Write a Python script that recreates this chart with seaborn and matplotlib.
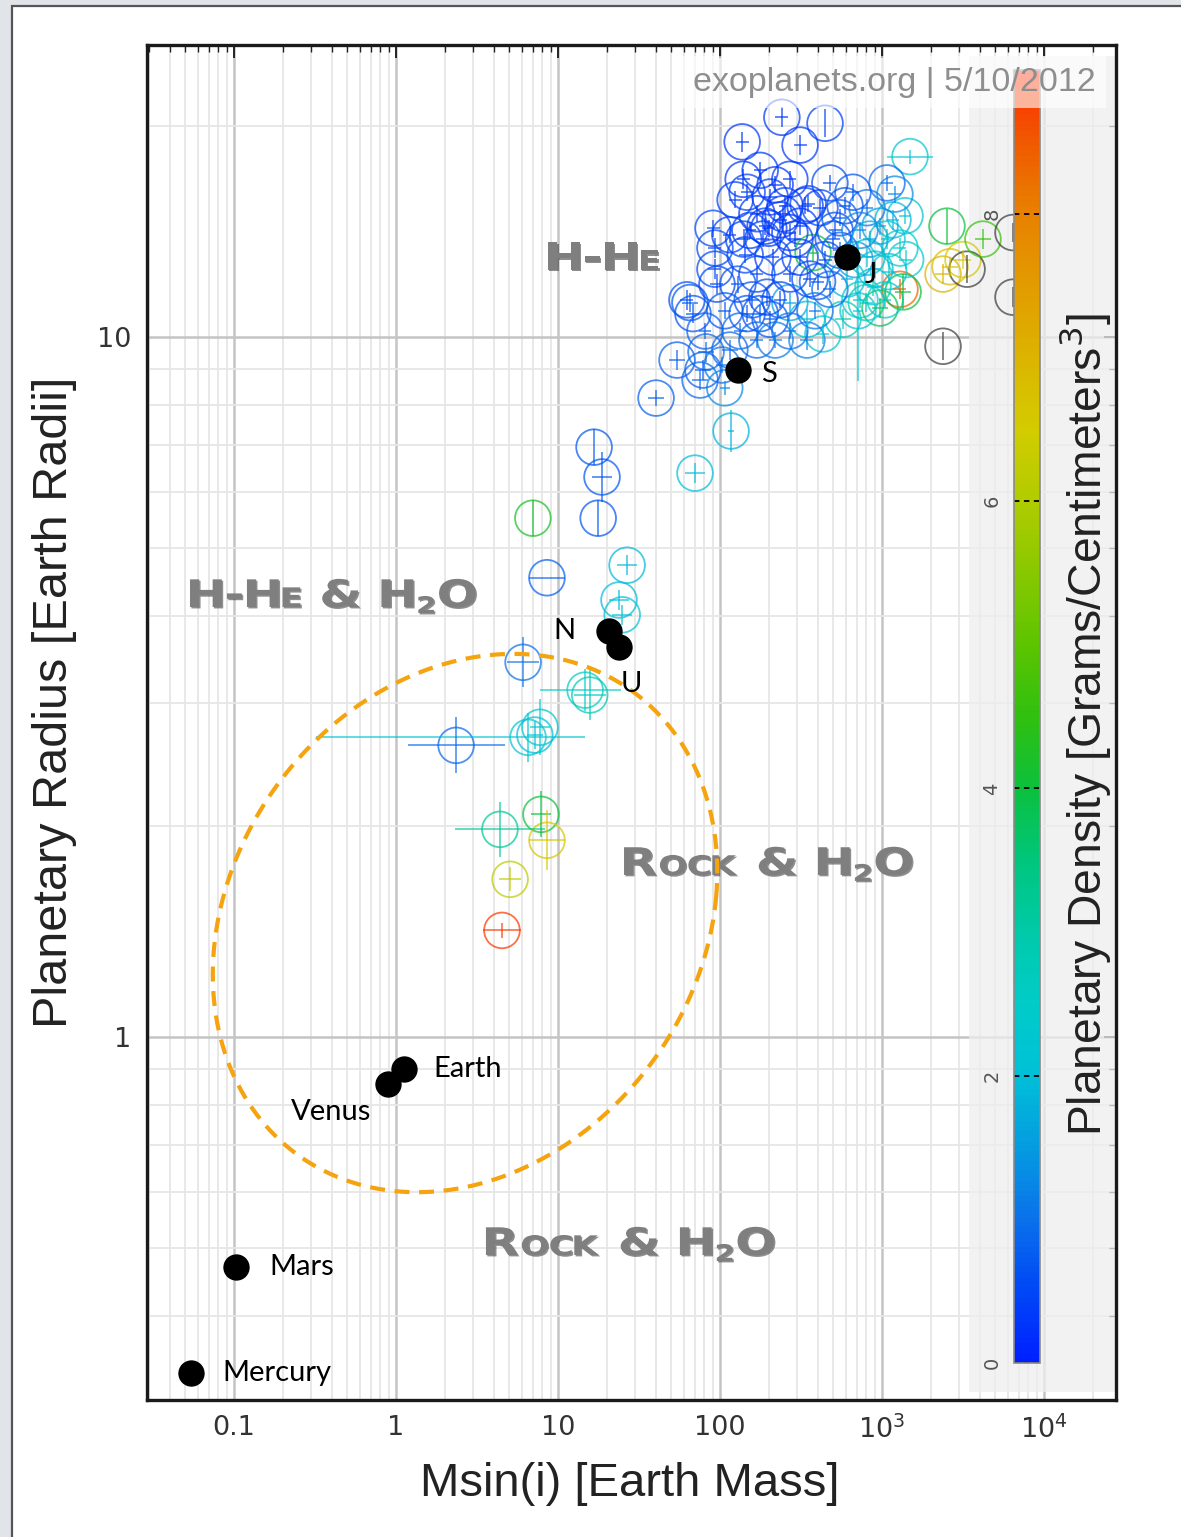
import numpy as np
import pandas as pd
import matplotlib
matplotlib.use("Agg")
import matplotlib.pyplot as plt
import matplotlib.colors as mcolors
import matplotlib.patheffects as pe
import matplotlib.transforms as mtransforms
from matplotlib.patches import Rectangle, PathPatch
from matplotlib.path import Path
from matplotlib.textpath import TextPath
from matplotlib.font_manager import FontProperties
from matplotlib.ticker import FixedLocator, FixedFormatter, LogLocator, NullFormatter
import seaborn as sns

sns.set_theme(style="white")
plt.rcParams["font.family"] = ["DejaVu Sans"]

# ---------------- data ----------------
# Exoplanets: Msin(i) [Earth masses], radius [Earth radii], density [g/cm^3]
# mass errors (lower/upper) and radius errors are in dex
planet_mass = [4.51, 5.06, 4.38, 7.85, 8.55, 2.35, 6.53, 7.74, 7.2, 14.7,
               15.7, 6.09, 8.55, 7.0, 17.7, 18.7, 16.7, 26.7, 23.8, 24.9,
               40.3, 54.3, 75.3, 82.0, 107, 117, 70.1, 62.5, 68.1, 93.1,
               93.1, 95.8, 137, 139, 241, 312, 445, 1489, 2518, 2381,
               2630, 3163, 3350, 2381, 4200, 6440, 6440, 1291, 1349, 972,
               574, 432, 344, 270, 711, 147, 169, 204, 235, 270,
               312, 184, 212, 169, 195, 235, 177, 270, 312, 375,
               414, 477, 662, 808, 1074, 1169, 1074, 1291, 808, 608,
               880, 78.5, 115, 169, 204, 147, 344, 65.3, 90.6, 245,
               200, 270, 350, 500, 550, 400, 140, 1400, 1100, 800,
               124, 153, 143, 129, 158, 219, 252, 290, 335, 359,
               445, 513, 591, 550, 731, 681, 843, 905, 972, 1387,
               731, 477, 386, 270, 219, 190, 177, 115, 107, 80.8,
               133, 103, 1202, 1044]
planet_radius = [1.42, 1.68, 1.98, 2.08, 1.91, 2.61, 2.68, 2.77, 2.70, 3.13,
                 3.08, 3.43, 4.53, 5.51, 5.51, 6.31, 6.96, 4.72, 4.21, 4.01,
                 8.18, 9.27, 8.68, 9.52, 8.46, 7.34, 6.39, 11.3, 10.8, 13.4,
                 12.5, 11.9, 19.0, 16.8, 20.6, 18.8, 20.2, 18.1, 14.4, 12.3,
                 12.6, 12.9, 12.5, 9.7, 13.8, 14.1, 11.4, 11.7, 11.6, 11.0,
                 10.6, 10.1, 10.6, 11.2, 10.9, 16.1, 15.0, 15.85, 14.7, 16.8,
                 14.4, 13.8, 13.0, 12.3, 11.4, 11.3, 10.8, 12.3, 13.0, 13.2,
                 15.3, 16.6, 16.1, 15.3, 16.6, 14.7, 13.8, 13.4, 13.0, 12.1,
                 11.8, 8.97, 9.58, 9.9, 10.6, 10.8, 9.9, 11.2, 14.3, 15.0,
                 14.3, 14.1, 15.5, 13.8, 14.8, 12.0, 13.8, 12.9, 12.4, 11.2,
                 15.7, 14.2, 13.1, 11.9, 11.3, 16.5, 15.4, 13.8, 15.4, 12.1,
                 12.9, 14.2, 15.4, 13.3, 14.2, 12.9, 13.8, 12.5, 14.4, 14.9,
                 11.3, 11.7, 10.9, 10.2, 9.9, 14.4, 17.3, 14.0, 10.9, 10.2,
                 10.2, 9.12, 16.0, 11.3]
planet_density = [8.8, 6.2, 3.2, 4.0, 6.6, 0.9, 2.2, 2.3, 2.0, 2.6,
                  2.8, 1.0, 0.8, 4.2, 0.7, 0.7, 0.7, 1.9, 2.0, 2.1,
                  0.8, 0.8, 0.9, 0.9, 1.3, 1.8, 2.0, 0.6, 0.6, 0.5,
                  0.5, 0.5, 0.3, 0.3, 0.3, 0.3, 0.4, 2.3, 4.0, 7.0,
                  6.8, 6.6, 12.0, 12.0, 4.6, 12.0, 12.0, 8.4, 4.0, 3.8,
                  2.8, 2.3, 2.0, 1.6, 2.2, 0.4, 0.35, 0.3, 0.3, 0.3,
                  0.35, 0.4, 0.4, 0.5, 0.55, 0.55, 0.6, 0.45, 0.4, 4.0,
                  0.4, 0.5, 0.7, 1.0, 0.9, 1.9, 2.3, 2.5, 2.0, 1.9,
                  2.5, 0.8, 0.9, 0.9, 0.7, 0.6, 1.2, 0.7, 0.5, 0.35,
                  0.3, 0.3, 0.4, 0.6, 0.7, 0.6, 0.45, 2.4, 2.2, 2.6,
                  0.4, 0.35, 0.45, 0.6, 0.6, 0.3, 0.3, 0.35, 0.35, 0.5,
                  0.5, 0.55, 0.6, 0.8, 1.2, 1.5, 1.7, 2.0, 1.6, 2.1,
                  2.3, 0.9, 1.0, 1.0, 1.1, 0.3, 0.3, 0.45, 0.7, 0.8,
                  0.9, 1.0, 1.3, 2.6]
mass_err_lo = [0.12, 0.07, 0.28, 0.06, 0.11, 0.30, 1.31, 0.06, 0.05, 0.28,
               0.10, 0.10, 0.11, 0.0, 0.0, 0.06, 0.0, 0.06, 0.06, 0.06,
               0.05, 0.05, 0.05, 0.05, 0.03, 0.02, 0.06, 0.04, 0.04, 0.04,
               0.04, 0.04, 0.04, 0.04, 0.04, 0.04, 0.0, 0.14, 0.0, 0.05,
               0.05, 0.05, 0.0, 0.0, 0.05, 0.0, 0.0, 0.04, 0.05, 0.05,
               0.05, 0.04, 0.04, 0.04, 0.03, 0.04, 0.04, 0.04, 0.04, 0.04,
               0.04, 0.04, 0.04, 0.04, 0.04, 0.04, 0.04, 0.04, 0.04, 0.04,
               0.04, 0.04, 0.04, 0.04, 0.04, 0.04, 0.04, 0.04, 0.04, 0.04,
               0.04, 0.05, 0.05, 0.04, 0.04, 0.04, 0.04, 0.05, 0.04, 0.04,
               0.04, 0.04, 0.04, 0.04, 0.04, 0.04, 0.04, 0.04, 0.04, 0.04,
               0.04, 0.04, 0.04, 0.04, 0.04, 0.04, 0.04, 0.04, 0.04, 0.04,
               0.04, 0.04, 0.04, 0.04, 0.04, 0.04, 0.04, 0.04, 0.04, 0.04,
               0.04, 0.04, 0.04, 0.04, 0.04, 0.04, 0.04, 0.04, 0.04, 0.04,
               0.04, 0.04, 0.04, 0.04]
mass_err_hi = [0.12, 0.07, 0.28, 0.06, 0.11, 0.30, 0.35, 0.06, 0.05, 0.22,
               0.10, 0.10, 0.11, 0.0, 0.0, 0.06, 0.0, 0.06, 0.06, 0.06,
               0.05, 0.05, 0.05, 0.05, 0.03, 0.02, 0.06, 0.04, 0.04, 0.04,
               0.04, 0.04, 0.04, 0.04, 0.04, 0.04, 0.0, 0.14, 0.0, 0.05,
               0.05, 0.05, 0.0, 0.0, 0.05, 0.0, 0.0, 0.04, 0.05, 0.05,
               0.05, 0.04, 0.04, 0.04, 0.03, 0.04, 0.04, 0.04, 0.04, 0.04,
               0.04, 0.04, 0.04, 0.04, 0.04, 0.04, 0.04, 0.04, 0.04, 0.04,
               0.04, 0.04, 0.04, 0.04, 0.04, 0.04, 0.04, 0.04, 0.04, 0.04,
               0.04, 0.05, 0.05, 0.04, 0.04, 0.04, 0.04, 0.05, 0.04, 0.04,
               0.04, 0.04, 0.04, 0.04, 0.04, 0.04, 0.04, 0.04, 0.04, 0.04,
               0.04, 0.04, 0.04, 0.04, 0.04, 0.04, 0.04, 0.04, 0.04, 0.04,
               0.04, 0.04, 0.04, 0.04, 0.04, 0.04, 0.04, 0.04, 0.04, 0.04,
               0.04, 0.04, 0.04, 0.04, 0.04, 0.04, 0.04, 0.04, 0.04, 0.04,
               0.04, 0.04, 0.04, 0.04]
radius_err = [0.011, 0.017, 0.039, 0.033, 0.043, 0.040, 0.035, 0.040, 0.02, 0.030,
              0.036, 0.036, 0.0, 0.026, 0.026, 0.036, 0.026, 0.014, 0.014, 0.014,
              0.011, 0.014, 0.014, 0.014, 0.010, 0.030, 0.014, 0.014, 0.014, 0.014,
              0.014, 0.014, 0.014, 0.014, 0.014, 0.014, 0.020, 0.010, 0.025, 0.014,
              0.014, 0.014, 0.020, 0.020, 0.014, 0.014, 0.014, 0.014, 0.025, 0.014,
              0.014, 0.014, 0.014, 0.014, 0.100, 0.012, 0.012, 0.012, 0.012, 0.012,
              0.012, 0.012, 0.012, 0.012, 0.012, 0.012, 0.012, 0.012, 0.012, 0.014,
              0.012, 0.012, 0.012, 0.012, 0.012, 0.014, 0.014, 0.014, 0.014, 0.014,
              0.014, 0.014, 0.014, 0.012, 0.012, 0.012, 0.014, 0.014, 0.012, 0.012,
              0.012, 0.012, 0.012, 0.012, 0.012, 0.012, 0.012, 0.014, 0.014, 0.014,
              0.012, 0.012, 0.012, 0.012, 0.012, 0.012, 0.012, 0.012, 0.012, 0.012,
              0.012, 0.012, 0.012, 0.012, 0.012, 0.012, 0.012, 0.012, 0.012, 0.012,
              0.012, 0.012, 0.012, 0.012, 0.012, 0.012, 0.012, 0.012, 0.012, 0.012,
              0.012, 0.012, 0.012, 0.012]

# Solar System planets
solar_names = ["Mercury", "Venus", "Earth", "Mars", "N", "U", "S", "J"]
solar_mass = [0.054, 0.89, 1.12, 0.103, 20.6, 23.7, 129, 608]
solar_radius = [0.331, 0.857, 0.90, 0.47, 3.80, 3.61, 8.97, 13.0]

x_tick_values = [0.1, 1, 10, 100, 1000, 10000]
x_tick_labels = ["0.1", "1", "10", "100", "$10^3$", "$10^4$"]
y_tick_values = [1, 10]
y_tick_labels = ["1", "10"]
density_ticks = [0, 2, 4, 6, 8]

# ---------------- figure ----------------
W, H = 1181, 1537
fig = plt.figure(figsize=(W / 100, H / 100), dpi=100)
fig.patch.set_facecolor("#e1e4e9")
card = Rectangle((12 / W, -0.02), 1.1, (H - 6) / H + 0.02, transform=fig.transFigure,
                 facecolor="white", edgecolor="#555555", lw=1.6, zorder=-5)
fig.add_artist(card)

ax = fig.add_axes([147 / W, 137 / H, 969 / W, 1355 / H])
ax.set_facecolor("none")

dens_anchor_colors = ["#0020ff", "#0048f6", "#0a72ea", "#049ce0", "#00c0d8", "#00ccc8",
                      "#00caa8", "#00c67c", "#0cc03c", "#30c010", "#5cc400", "#88c800",
                      "#b0cc00", "#d2cc00", "#dcb400", "#e29c00", "#e88200", "#f05a00",
                      "#ff2a00"]
cmap = mcolors.LinearSegmentedColormap.from_list("density", dens_anchor_colors)
cmap.set_over("#3c3c3c")
norm = mcolors.Normalize(vmin=0, vmax=9)

df = pd.DataFrame({"mass": planet_mass, "radius": planet_radius,
                   "density": planet_density})

ax.set_xscale("log")
ax.set_yscale("log")

sns.scatterplot(data=df, x="mass", y="radius", hue="density", palette=cmap,
                hue_norm=norm, s=660, marker="o", linewidth=1.3, legend=False,
                ax=ax, zorder=3)
pts = ax.collections[-1]
edge = cmap(norm(np.asarray(planet_density)))
edge[:, 3] = 0.72
pts.set_edgecolors(edge)
pts.set_facecolors("none")

m = np.asarray(planet_mass)
r = np.asarray(planet_radius)
ax.hlines(r, m / 10 ** np.asarray(mass_err_lo), m * 10 ** np.asarray(mass_err_hi),
          colors=edge, lw=1.2, zorder=3)
ax.vlines(m, r / 10 ** np.asarray(radius_err), r * 10 ** np.asarray(radius_err),
          colors=edge, lw=1.2, zorder=3)

# Solar System reference points
ax.scatter(solar_mass, solar_radius, s=360, color="black", zorder=6, lw=0)
label_offsets = {"Mercury": (23, 0, "left"), "Venus": (-12, -20, "right"),
                 "Earth": (21, 0, "left"), "Mars": (24, 0, "left"),
                 "N": (-32, 0, "center"), "U": (9, -27, "center"),
                 "S": (22, -3, "center"), "J": (17, -13, "center")}
for name, mx, ry in zip(solar_names, solar_mass, solar_radius):
    dx, dy, ha = label_offsets[name]
    ax.annotate(name, (mx, ry), xytext=(dx, dy), textcoords="offset points",
                ha=ha, va="center", fontsize=21, family="Lato", color="black",
                zorder=7)

ax.set_xlim(0.02904, 27830)
ax.set_ylim(0.3030, 26.13)

ax.xaxis.set_major_locator(FixedLocator(x_tick_values))
ax.xaxis.set_major_formatter(FixedFormatter(x_tick_labels))
ax.yaxis.set_major_locator(FixedLocator(y_tick_values))
ax.yaxis.set_major_formatter(FixedFormatter(y_tick_labels))
for axis in (ax.xaxis, ax.yaxis):
    axis.set_minor_locator(LogLocator(base=10, subs=np.arange(2, 10), numticks=20))
    axis.set_minor_formatter(NullFormatter())

ax.set_axisbelow(True)
ax.grid(which="major", color="#c4c4c4", lw=1.8)
ax.grid(which="minor", color="#e6e6e6", lw=1.3)
ax.tick_params(which="both", direction="in", top=True, right=True, colors="#222222",
               labelcolor="#333333", labelsize=19.5)
ax.tick_params(which="major", length=9, width=1.4, pad=11)
ax.tick_params(which="minor", length=5, width=1.0)
for sp in ax.spines.values():
    sp.set_color("#1a1a1a")
    sp.set_linewidth(2.4)

ax.set_xlabel("Msin(i) [Earth Mass]", fontsize=34, family="Liberation Sans",
              color="#222222")
ax.xaxis.set_label_coords(0.4985, -0.046)
ax.xaxis.label.set_va("top")
ax.set_ylabel("Planetary Radius [Earth Radii]", fontsize=35, family="Liberation Sans",
              color="#222222")
ax.yaxis.set_label_coords(-0.072, 0.515)

# light panel behind the colour scale
ax.add_patch(Rectangle((0.848, 0.006), 0.152, 0.986, transform=ax.transAxes,
                       facecolor="#eeeeee", edgecolor="none", alpha=0.75, zorder=0.8))

# dashed highlight ring
t = np.linspace(0, 2 * np.pi, 600)
ring_x = 0.3282 + (251 * np.cos(t) + 25 * np.sin(t)) / 969
ring_y = 0.3520 + (268 * np.sin(t) + 25 * np.cos(t)) / 1355
ax.plot(ring_x, ring_y, transform=ax.transAxes, color="#f5a30f", lw=3.0,
        dashes=(3.6, 2.3), zorder=5, clip_on=False)

# composition region labels in small caps
LABEL_FONT = FontProperties(family="DejaVu Sans", weight="bold")


def region_label(xa, ya, pieces, stretch=1.28, color="#7f7f7f"):
    paths = []
    cursor = 0.0
    for text, size, shift, gap in pieces:
        tp = TextPath((0, 0), text, size=size, prop=LABEL_FONT)
        ext = tp.get_extents()
        verts = tp.vertices.copy()
        verts[:, 0] += cursor - ext.x0
        verts[:, 1] += shift
        paths.append(Path(verts, tp.codes))
        cursor += ext.width + gap
    compound = Path.make_compound_path(*paths)
    tr = (mtransforms.Affine2D().scale(stretch, 1.0)
          + mtransforms.ScaledTranslation(xa, ya, ax.transAxes))
    patch = PathPatch(compound, transform=tr, facecolor=color, edgecolor="none",
                      zorder=2.5,
                      path_effects=[pe.SimplePatchShadow(offset=(1.0, -1.0),
                                                         shadow_rgbFace="#333333",
                                                         alpha=0.55),
                                    pe.Normal()])
    ax.add_artist(patch)


HHE = [("H", 38, 0, 4), ("-", 38, 0, 4), ("H", 38, 0, 3), ("E", 27, 0, 0)]
HHE_H2O = [("H", 38, 0, 4), ("-", 38, 0, 4), ("H", 38, 0, 3), ("E", 27, 0, 17),
           ("&", 38, 0, 17), ("H", 38, 0, 4), ("2", 23, -6, 4), ("O", 38, 0, 0)]
ROCK_H2O = [("R", 38, 0, 3), ("O", 27, 0, 2), ("C", 27, 0, 2), ("K", 27, 0, 17),
            ("&", 38, 0, 17), ("H", 38, 0, 4), ("2", 23, -6, 4), ("O", 38, 0, 0)]
region_label(0.4138, 0.8339, HHE)
region_label(0.0444, 0.5852, HHE_H2O)
region_label(0.4923, 0.3875, ROCK_H2O)
region_label(0.3498, 0.1070, ROCK_H2O)

# colour scale
cax = fig.add_axes([1014 / W, (H - 1363) / H, 26 / W, (1363 - 70) / H])
sm = plt.cm.ScalarMappable(norm=norm, cmap=cmap)
cbar = fig.colorbar(sm, cax=cax)
cbar.outline.set_edgecolor("#8a8a8a")
cbar.outline.set_linewidth(1.2)
cbar.set_ticks(density_ticks)
cax.yaxis.set_ticks_position("left")
cax.tick_params(length=0, pad=9, labelsize=14, labelcolor="#555555", labelrotation=90)
for lab in cax.get_yticklabels():
    lab.set_va("center")
for v in density_ticks:
    cax.axhline(v, color="black", lw=1.3, ls=(0, (3, 2.5)))

fig.text(1085 / W, 1 - 725 / H, "Planetary Density [Grams/Centimeters$^3$]",
         rotation=90, ha="center", va="center", fontsize=33.3,
         family="Liberation Sans", color="#222222")

fig.text(693 / W, 1 - 82 / H, "exoplanets.org | 5/10/2012", ha="left", va="center",
         fontsize=24.5, family="Liberation Sans", color="#8e8e8e", zorder=10,
         bbox=dict(boxstyle="square,pad=0.3", facecolor="white", edgecolor="none",
                   alpha=0.62))

fig.savefig("out.png", dpi=100)
